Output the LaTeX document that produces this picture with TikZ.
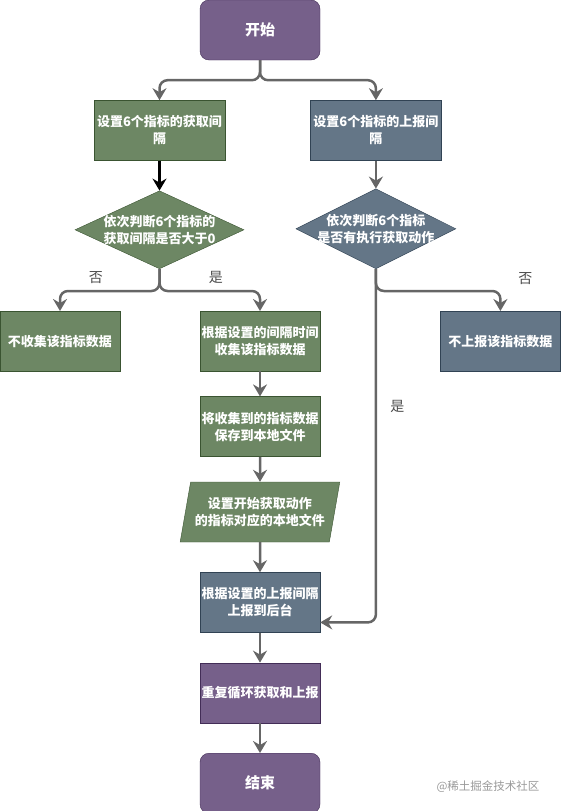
\documentclass[tikz,border=0pt]{standalone}
\usepackage{fontspec}
\setmainfont{Noto Sans CJK SC}
\usetikzlibrary{arrows.meta,positioning,shapes.geometric}
\definecolor{purplefill}{HTML}{76608A}
\definecolor{purpleline}{HTML}{432D57}
\definecolor{greenfill}{HTML}{6D8764}
\definecolor{greenline}{HTML}{3A5431}
\definecolor{bluefill}{HTML}{647687}
\definecolor{blueline}{HTML}{314354}
\definecolor{linegray}{HTML}{666666}

\begin{document}
\begin{tikzpicture}[
    x=1pt, y=1pt,
    node distance=30pt,
    every node/.style={font=\fontsize{13}{17}\selectfont\bfseries, text=white, align=center},
    terminal/.style={draw=purpleline, fill=purplefill, rounded corners=9pt, minimum width=120pt, minimum height=60pt, font=\fontsize{15}{18}\selectfont\bfseries},
    greenbox/.style={draw=greenline, fill=greenfill, minimum width=120pt, minimum height=60pt, inner sep=0pt},
    bluebox/.style={draw=blueline, fill=bluefill, minimum width=120pt, minimum height=60pt, inner sep=0pt},
    loopbox/.style={draw=purpleline, fill=purplefill, minimum width=120pt, minimum height=60pt, inner sep=0pt},
    greenjudge/.style={diamond, draw=greenline, fill=greenfill, aspect=2.17, minimum width=169pt, minimum height=78pt, inner sep=-6pt},
    bluejudge/.style={diamond, draw=blueline, fill=bluefill, aspect=2, minimum width=160pt, minimum height=80pt, inner sep=-9pt},
    iobox/.style={trapezium, trapezium left angle=71.6, trapezium right angle=108.4, trapezium stretches=true, draw=greenline, fill=greenfill, minimum width=160pt, minimum height=60pt, inner sep=0pt},
    flow/.style={-{Stealth[length=12pt,width=14pt,inset=4pt]}, line width=2.5pt, draw=linegray, rounded corners=8pt},
    branch/.style={font=\fontsize{14}{16}\selectfont, text=black!70}
]
\useasboundingbox (0,0) rectangle (561,-811);

\node[terminal] (start) at (260,-30) {开始};
\node[greenbox, minimum width=131pt, below=40pt of start, xshift=-100.5pt] (prep) {设置6个指标的获取间\\隔};
\node[bluebox, minimum width=131pt, right=85pt of prep] (upd) {设置6个指标的上报间\\隔};
\node[greenjudge, below=30pt of prep] (judge1) {依次判断6个指标的\\获取间隔是否大于0};
\node[bluejudge, below=28pt of upd] (judge2) {依次判断6个指标\\是否有执行获取动作};
\node[greenbox, below=42pt of judge1, xshift=-99.5pt] (skip) {不收集该指标数据};
\node[greenbox, below=42pt of judge1, xshift=100.5pt] (collect) {根据设置的间隔时间\\收集该指标数据};
\node[bluebox, below=42pt of judge2, xshift=124.5pt] (noreport) {不上报该指标数据};
\node[greenbox, below=25pt of collect] (save) {将收集到的指标数据\\保存到本地文件};
\node[iobox, below=25pt of save] (setfile) {设置开始获取动作\\的指标对应的本地文件};
\node[bluebox, below=30pt of setfile] (report) {根据设置的上报间隔\\上报到后台};
\node[loopbox, below=30pt of report] (again) {重复循环获取和上报};
\node[terminal, below=30pt of again] (finish) {结束};
\node[font=\fontsize{11.5}{13}\selectfont, text=black!40, anchor=east] (wm) at (543,-787) {@稀土掘金技术社区};

\draw[flow] (start.south) -- ++(0,-20) -| (prep.north);
\draw[flow] (start.south) -- ++(0,-20) -| (upd.north);
\draw[flow, draw=black] (prep) -- (judge1);
\draw[flow] (upd) -- (judge2);
\draw[flow] (judge1.south) -- ++(0,-22) -| (skip.north) node[branch, pos=0.32, above=3pt] {否};
\draw[flow] (judge1.south) -- ++(0,-22) -| (collect.north) node[branch, pos=0.28, above=3pt] {是};
\draw[flow] (judge2.south) -- ++(0,-22) -| (noreport.north) node[branch, pos=0.5, xshift=25pt, yshift=12pt] {否};
\draw[flow] (judge2.south) |- ([yshift=-20pt]report.east) node[branch, pos=0.195, right=10pt] {是};
\draw[flow] (collect) -- (save);
\draw[flow] (save) -- (setfile);
\draw[flow] (setfile) -- (report);
\draw[flow] (report) -- (again);
\draw[flow] (again) -- (finish);
\end{tikzpicture}
\end{document}
